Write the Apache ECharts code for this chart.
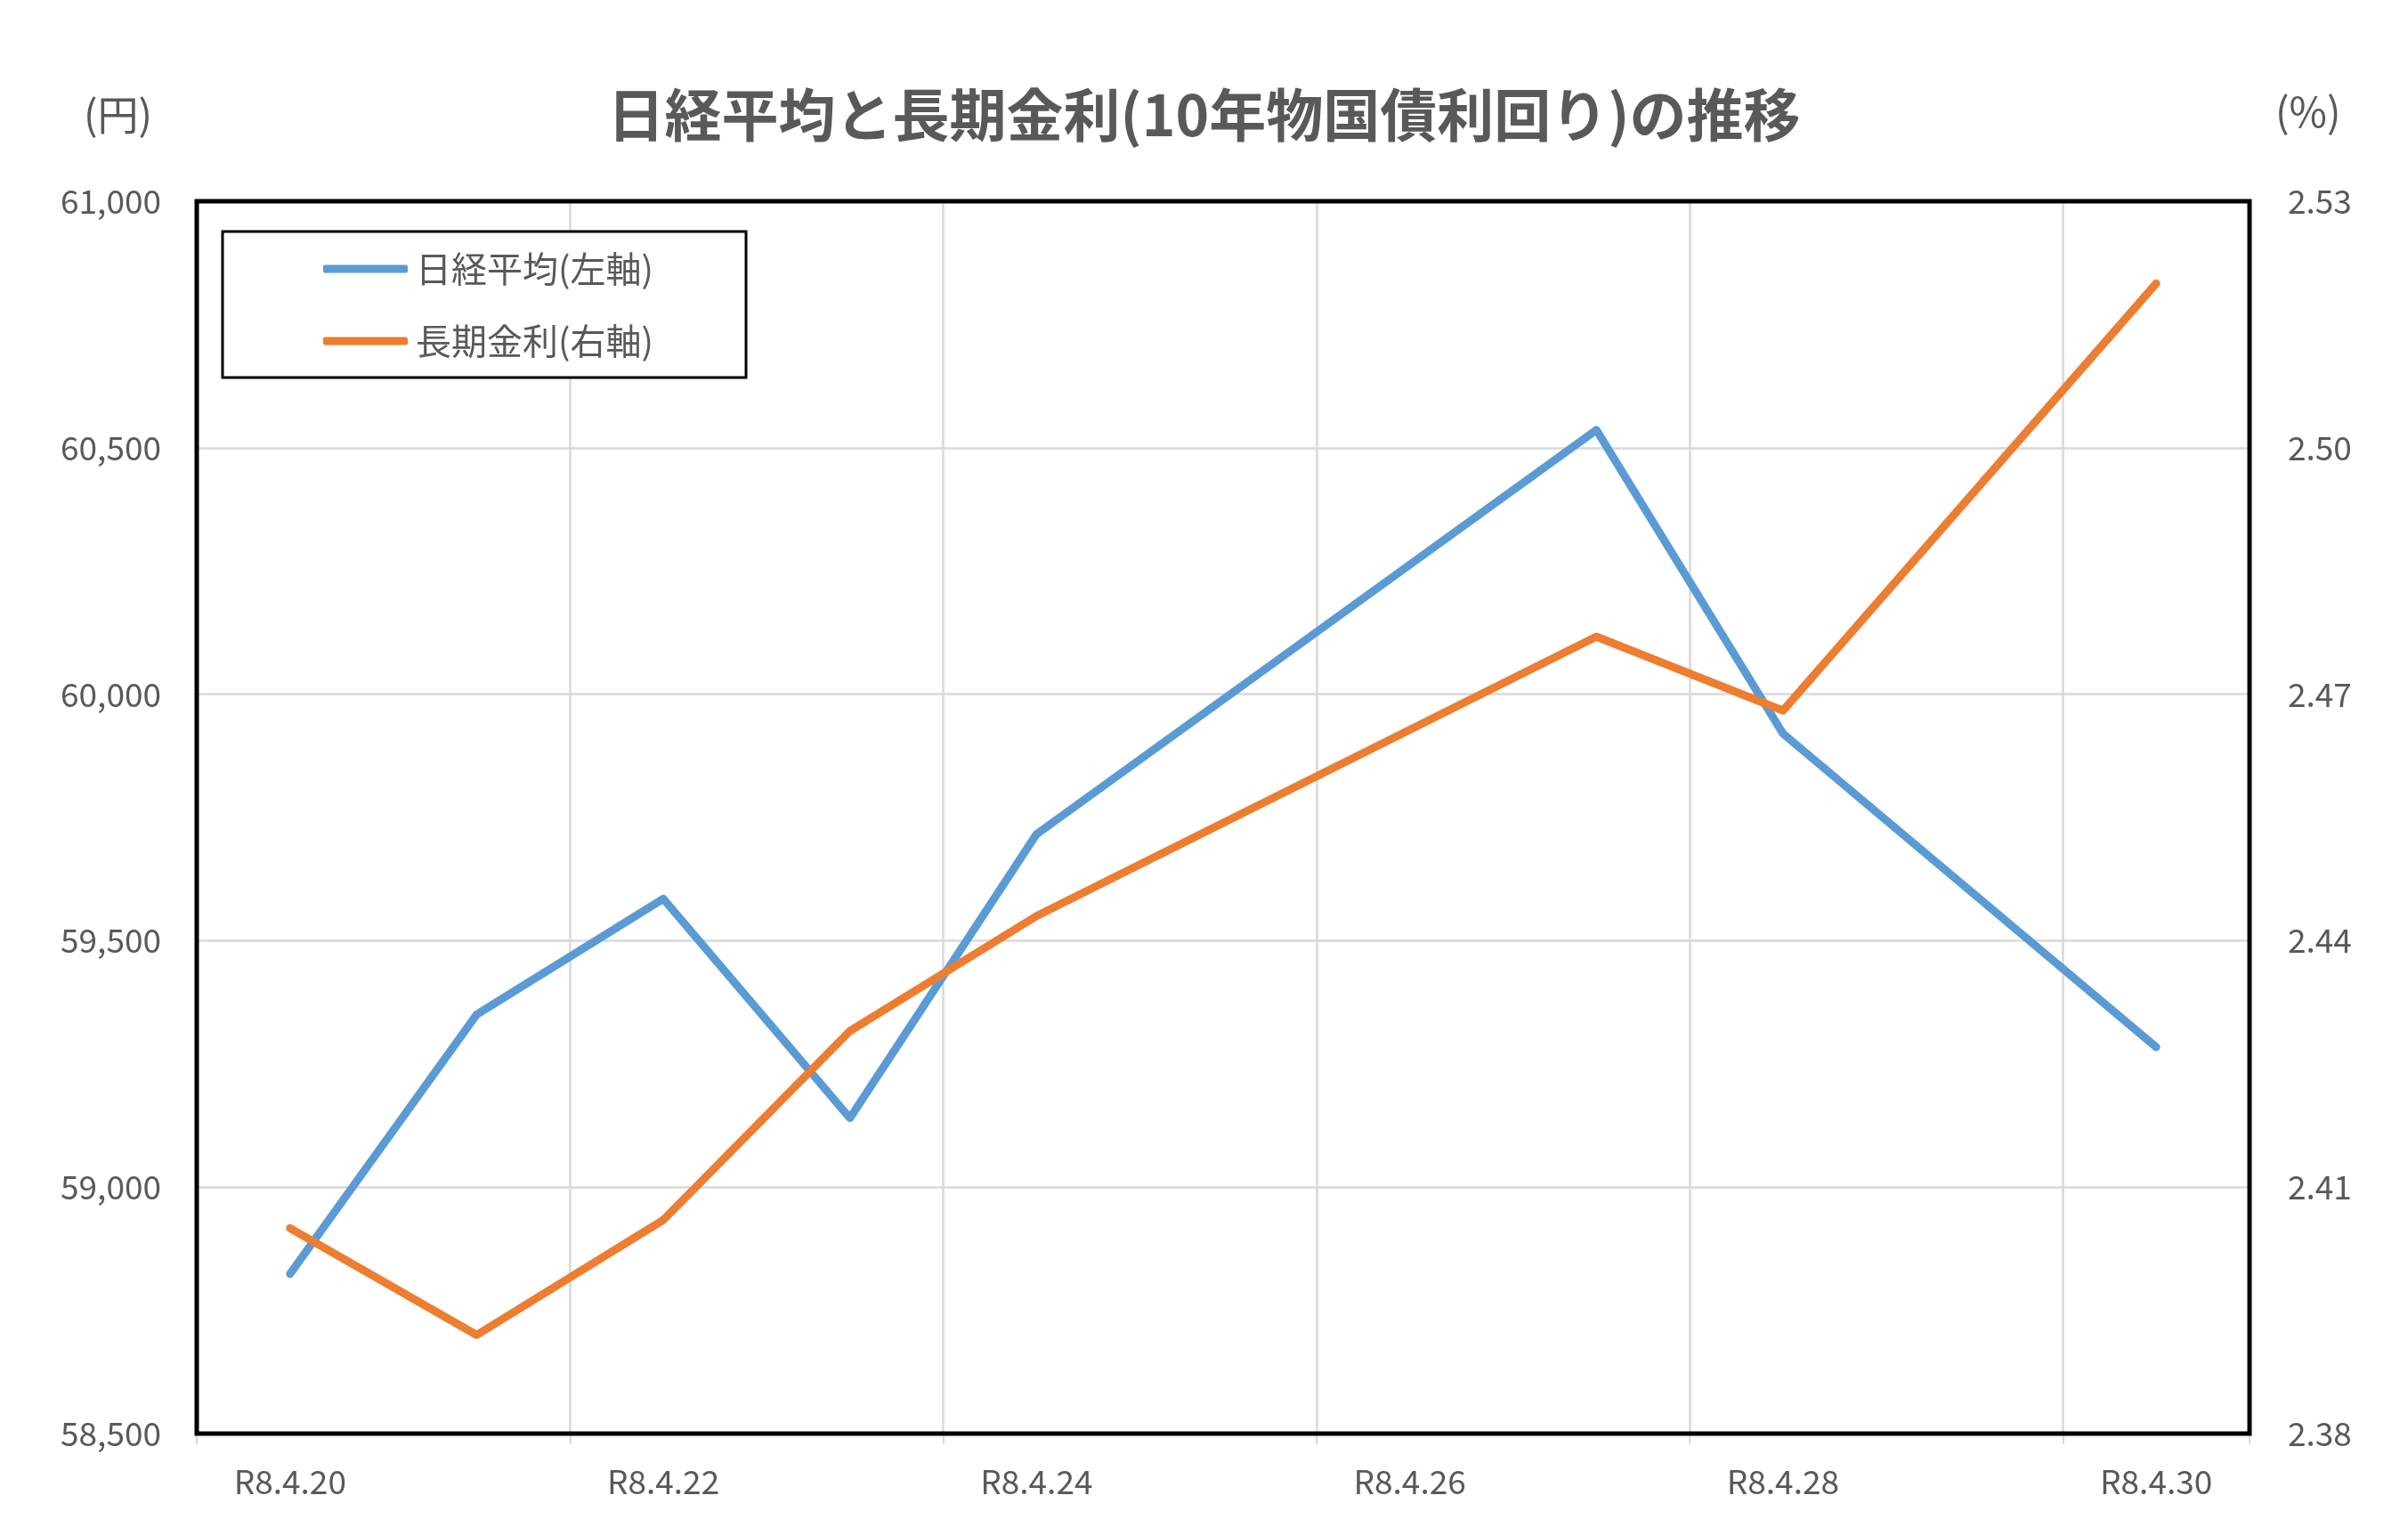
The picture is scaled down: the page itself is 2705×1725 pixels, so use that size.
<!DOCTYPE html>
<html><head><meta charset="utf-8">
<script src="https://cdn.jsdelivr.net/npm/echarts@6/dist/echarts.min.js"></script>
<style>html,body{margin:0;padding:0;background:#fff}#chart{width:2705px;height:1725px}</style>
</head><body><div id="chart"></div>
<script>
// ---- data ----
const categories = ['R8.4.20','R8.4.21','R8.4.22','R8.4.23','R8.4.24','R8.4.25','R8.4.26','R8.4.27','R8.4.28','R8.4.29','R8.4.30'];
const nikkei = [58824, 59350, 59585, 59140, 59716, null, null, 60536, 59920, null, 59284];
const jgbYield = [2.405, 2.392, 2.406, 2.429, 2.443, null, null, 2.477, 2.468, null, 2.520];
const seriesNames = ['日経平均(左軸)', '長期金利(右軸)'];
const titleText = '日経平均と長期金利(10年物国債利回り)の推移';
const leftUnit = '(円)';
const rightUnit = '(%)';
const leftRange = [58500, 61000, 500];
const rightRange = [2.38, 2.53];

const FONT = "'Noto Sans CJK JP', 'Noto Sans', sans-serif";
const GREY = '#595959';

const chart = echarts.init(document.getElementById('chart'), null, {renderer: 'canvas'});
chart.setOption({
  backgroundColor: '#fff',
  animation: false,
  textStyle: {fontFamily: FONT},
  title: {
    text: titleText, left: 'center', top: 92,
    textStyle: {fontFamily: FONT, fontSize: 64, fontWeight: 'bold', color: GREY}
  },
  graphic: [
    {type: 'text', left: 94, top: 106, style: {text: leftUnit, font: "46px 'Noto Sans CJK JP'", fill: GREY}},
    {type: 'text', left: 2556, top: 103, style: {text: rightUnit, font: "46px 'Noto Sans CJK JP'", fill: GREY}}
  ],
  legend: {
    orient: 'vertical', left: 250, top: 260,
    padding: [22, 104, 21, 113],
    itemGap: 41,
    itemWidth: 95, itemHeight: 9,
    icon: 'roundRect',
    backgroundColor: '#fff',
    borderColor: '#000', borderWidth: 3,
    textStyle: {fontFamily: FONT, fontSize: 40, color: GREY, padding: [0, 0, 0, 4]},
    data: seriesNames
  },
  grid: {
    left: 221, right: 178, top: 226, bottom: 115,
    show: true, borderColor: '#000', borderWidth: 5, z: 5
  },
  xAxis: {
    type: 'category', data: categories, boundaryGap: true,
    axisLine: {show: true, lineStyle: {color: '#D9D9D9', width: 2}},
    axisTick: {show: true, interval: 1, length: 12, lineStyle: {color: '#D9D9D9', width: 2}},
    axisLabel: {interval: 1, margin: 35, fontFamily: FONT, fontSize: 37, color: GREY},
    splitLine: {show: true, interval: 1, lineStyle: {color: '#D9D9D9', width: 2.5}}
  },
  yAxis: [
    {
      type: 'value', position: 'left',
      min: leftRange[0], max: leftRange[1], interval: leftRange[2],
      axisLine: {show: false}, axisTick: {show: false},
      axisLabel: {margin: 40, fontFamily: FONT, fontSize: 37, color: GREY,
        formatter: v => v.toLocaleString('en-US')},
      splitLine: {show: true, lineStyle: {color: '#D9D9D9', width: 2.5}}
    },
    {
      type: 'value', position: 'right',
      min: rightRange[0], max: rightRange[1], alignTicks: true,
      axisLine: {show: false}, axisTick: {show: false},
      axisLabel: {margin: 43, fontFamily: FONT, fontSize: 37, color: GREY,
        formatter: v => Number(v).toFixed(2)},
      splitLine: {show: false}
    }
  ],
  series: [
    {
      name: seriesNames[0], type: 'line', yAxisIndex: 0, data: nikkei,
      connectNulls: true, symbol: 'none', color: '#5B9BD5',
      lineStyle: {width: 9, color: '#5B9BD5', cap: 'round', join: 'round'}
    },
    {
      name: seriesNames[1], type: 'line', yAxisIndex: 1, data: jgbYield,
      connectNulls: true, symbol: 'none', color: '#ED7D31',
      lineStyle: {width: 9, color: '#ED7D31', cap: 'round', join: 'round'}
    }
  ]
});
</script></body></html>
